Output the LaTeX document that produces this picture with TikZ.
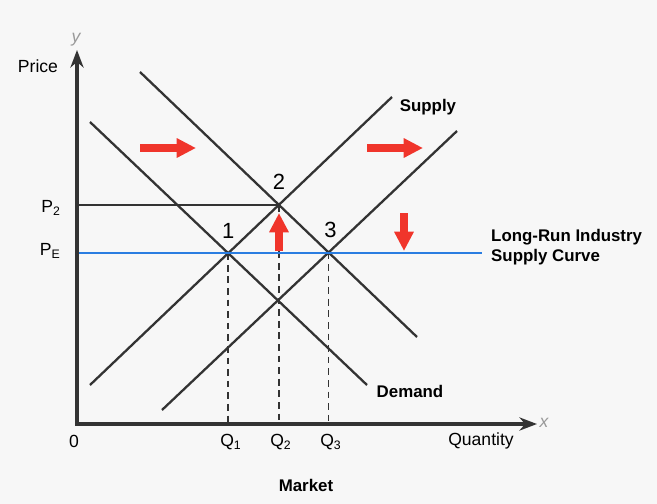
\documentclass[tikz,border=0pt]{standalone}
\usepackage{fontspec}
\setmainfont{Liberation Sans}
\usetikzlibrary{arrows.meta, positioning}
\definecolor{axisgray}{HTML}{333333}
\definecolor{lrblue}{HTML}{2A7DE1}
\definecolor{shiftred}{HTML}{F0352B}
\definecolor{bggray}{HTML}{F7F7F7}
\definecolor{lettergray}{HTML}{9A9A9A}

\begin{document}
\begin{tikzpicture}[
  x=0.02cm, y=-0.02cm,
  axis/.style={draw=axisgray, line width=1.8pt,
               {Stealth[length=10pt,width=7.5pt]}-{Stealth[length=10pt,width=7.5pt]}},
  curve/.style={draw=axisgray, line width=1.3pt},
  lrline/.style={draw=lrblue, line width=1.5pt},
  guide/.style={draw=axisgray, line width=0.85pt, dash pattern=on 3.8pt off 2.8pt},
  push/.style={draw=shiftred, line width=4pt, -{Triangle[length=11pt,width=10.5pt]}},
  ticklbl/.style={font=\fontsize{10}{12}\selectfont},
  ptlbl/.style={font=\fontsize{12.5}{14}\selectfont},
  curvelbl/.style={font=\bfseries\fontsize{9.6}{11.5}\selectfont, align=left},
  axisletter/.style={text=lettergray, font=\itshape\fontsize{10}{12}\selectfont}
]
\fill[bggray] (0,0) rectangle (657,504);

% axes
\coordinate (o) at (77,424);
\coordinate (ytop) at (77,50);
\coordinate (xend) at (537,424);

% supply and demand lines
\coordinate (s1a) at (90,385);
\coordinate (s1b) at (392,97);
\coordinate (s2a) at (162,410);
\coordinate (s2b) at (457,131);
\coordinate (d1a) at (90,122);
\coordinate (d1b) at (367,385);
\coordinate (d2a) at (140,72);
\coordinate (d2b) at (417,337);

% equilibria
\coordinate (e1) at (intersection of s1a--s1b and d1a--d1b);
\coordinate (e2) at (intersection of s1a--s1b and d2a--d2b);
\coordinate (e3) at (intersection of s2a--s2b and d2a--d2b);
\coordinate (lrend) at (482,253);

% guides
\draw[guide] (e1) -- (e1 |- o);
\draw[guide] (e2) -- (e2 |- o);
\draw[guide] (e3) -- (e3 |- o);

\draw[curve] (s1a) -- (s1b);
\draw[curve] (s2a) -- (s2b);
\draw[curve] (d1a) -- (d1b);
\draw[curve] (d2a) -- (d2b);
\draw[curve] (o |- e2) -- (e2);
\draw[lrline] (o |- lrend) -- (lrend);

\draw[axis] (ytop) -- (o) -- (xend);

% shifts
\coordinate (r1s) at (140,148);
\coordinate (r1e) at (196,148);
\coordinate (r2s) at (367,148);
\coordinate (r2e) at (423,148);
\coordinate (ups) at (279,251);
\coordinate (upe) at (279,213);
\coordinate (dns) at (404,213);
\coordinate (dne) at (404,251);
\draw[push] (r1s) -- (r1e);
\draw[push] (r2s) -- (r2e);
\draw[push] (ups) -- (upe);
\draw[push] (dns) -- (dne);

% labels
\node[ptlbl, above=5pt of e1] (n1) {1};
\node[ptlbl, above=5pt of e2] (n2) {2};
\node[ptlbl, above=5pt of e3, xshift=1pt] (n3) {3};

\node[ticklbl] (price) at (38,66) {Price};
\node[axisletter] (ylet) at (76,40) {y};
\node[axisletter] (xlet) at (544,423) {x};
\node[ticklbl, anchor=east] (p2) at (67,208) {P\textsubscript{2}};
\node[ticklbl, anchor=east] (pe) at (67,251) {P\textsubscript{E}};
\node[ticklbl] (zero) at (74,441) {0};
\node[ticklbl] (q1) at (231,442) {Q\textsubscript{1}};
\node[ticklbl] (q2) at (281,442) {Q\textsubscript{2}};
\node[ticklbl] (q3) at (331,442) {Q\textsubscript{3}};
\node[ticklbl] (qty) at (481,441) {Quantity};

\node[curvelbl] (sup) at (428,107) {Supply};
\node[curvelbl] (dem) at (410,391) {Demand};
\node[curvelbl, anchor=west] (lrlbl) at (485,247) {Long-Run Industry\\Supply Curve};
\node[curvelbl] (mkt) at (306,485) {Market};
\end{tikzpicture}
\end{document}
